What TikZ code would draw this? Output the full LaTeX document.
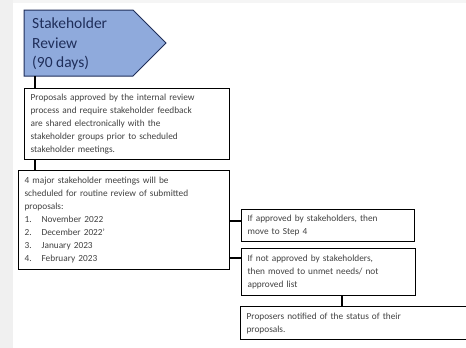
\documentclass[tikz,border=0pt]{standalone}
\usepackage{fontspec}
\setmainfont{Carlito}
\usepackage{xcolor}
\definecolor{hdrblue}{RGB}{143, 170, 220}
\definecolor{hdrnavy}{RGB}{31, 46, 90}
\definecolor{txtgray}{RGB}{64, 64, 64}
\usetikzlibrary{
  arrows.meta,
  positioning,
  calc
}

\begin{document}
\begin{tikzpicture}[
  x=1pt, y=-1pt,
  hdrshape/.style={
    draw=hdrnavy, line width=1pt,
    fill=hdrblue
  },
  hdrtext/.style={
    anchor=north west, inner sep=0pt,
    text=hdrnavy, align=left,
    font=\fontsize{15.5}{19.5}\selectfont
  },
  stepbox/.style={
    draw=black, line width=1.2pt,
    anchor=north west, align=left,
    text=txtgray, inner xsep=6pt, inner ysep=3pt,
    font=\fontsize{9.3}{13}\selectfont
  },
  link/.style={draw=black, line width=1.2pt}
]
\useasboundingbox (0,0) rectangle (466,348);
\fill[gray!12] (0,0) rectangle (13,348);
\fill[gray!8] (13,0) rectangle (466,3);

% header
\draw[hdrshape] (24,10) -- (133,10) -- (166,43) -- (133,76) -- (24,76) -- cycle;
\node[hdrtext] (hdr) at (32,18) {Stakeholder\\Review\\(90 days)};
\coordinate (hdrfoot) at (35,76);

% steps
\node[stepbox, minimum width=205pt, minimum height=71pt, text width=193pt] (prop) at (24,88) {%
  Proposals approved by the internal review\\
  process and require stakeholder feedback\\
  are shared electronically with the\\
  stakeholder groups prior to scheduled\\
  stakeholder meetings.};
\node[stepbox, minimum width=211pt, minimum height=99pt, text width=199pt] (meet) at (18,170) {%
  4 major stakeholder meetings will be\\
  scheduled for routine review of submitted\\
  proposals:\\
  \makebox[17pt][l]{1.}November 2022\\
  \makebox[17pt][l]{2.}December 2022’\\
  \makebox[17pt][l]{3.}January 2023\\
  \makebox[17pt][l]{4.}February 2023};
\node[stepbox, minimum width=173pt, minimum height=32pt, text width=161pt] (yes) at (241,209) {%
  If approved by stakeholders, then\\
  move to Step 4};
\node[stepbox, minimum width=174pt, minimum height=47pt, text width=162pt] (no) at (241,248) {%
  If not approved by stakeholders,\\
  then moved to unmet needs/ not\\
  approved list};
\node[stepbox, minimum width=232pt, minimum height=33pt, text width=220pt] (notify) at (240,306) {%
  Proposers notified of the status of their\\
  proposals.};

% connectors
\draw[link] (hdrfoot) -- (hdrfoot |- prop.north);
\draw[link] (prop.south -| hdrfoot) -- (meet.north -| hdrfoot);
\draw[link] ([yshift=-12pt]yes.north west) -- ([yshift=-12pt]yes.north west -| meet.east);
\draw[link] ([yshift=-10pt]no.north west) -- ([yshift=-10pt]no.north west -| meet.east);
\draw[link] ([xshift=101pt]no.south west) -- ([xshift=101pt]no.south west |- notify.north);
\end{tikzpicture}
\end{document}
